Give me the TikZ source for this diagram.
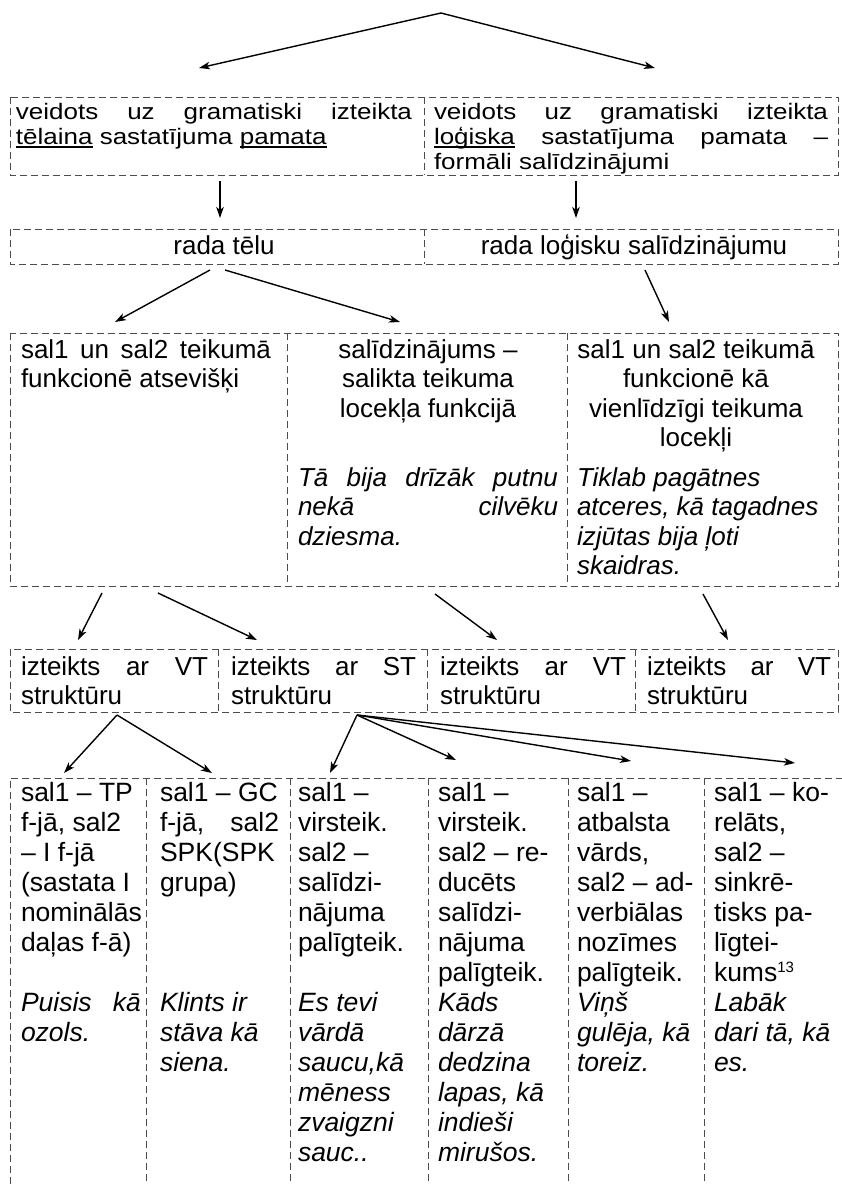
\documentclass[tikz,border=0pt]{standalone}
\usepackage{fontspec}
\setmainfont{Liberation Sans}
\newfontfamily\upw[FakeStretch=1.16]{Liberation Sans}
\usetikzlibrary{arrows.meta}
\newcommand\tp{\rule{0pt}{30pt}}
\newcommand\jl[2]{\makebox[#1][s]{#2}}
\newsavebox\ulbox
\newcommand\myul[1]{\sbox\ulbox{#1}\rlap{\rule[-3.5pt]{\wd\ulbox}{1.5pt}}\usebox\ulbox}
\newcommand\bl{\mbox{}}
\newcommand\fupA{\upw\fontsize{22.4}{25}\selectfont}
\newcommand\fupB{\fontsize{26}{29.5}\selectfont}
\newcommand\flow{\fontsize{26.5}{30}\selectfont}
\newcommand\smsup[1]{\raisebox{9pt}{\fontsize{15}{15}\selectfont #1}}
\tikzset{
  bord/.style={draw=black!70, line width=0.9pt, dash pattern=on 7pt off 4pt},
  con/.style={draw=black, line width=1.4pt, -{Stealth[length=11pt,width=7.5pt,inset=3pt]}},
  tu1/.style={inner sep=0pt, outer sep=0pt, anchor=north west, align=left, font={\fupA}},
  tu/.style={inner sep=0pt, outer sep=0pt, anchor=north west, align=left, font={\fupB}},
  tuc/.style={tu, anchor=north, align=center},
  tl/.style={inner sep=0pt, outer sep=0pt, anchor=north west, align=left, font={\flow}},
}
\begin{document}
\setlength{\lineskiplimit}{-60pt}%
\begin{tikzpicture}[x=1pt,y=-1pt]
\useasboundingbox (0,0) rectangle (842,1184);

% ---------- borders ----------
\draw[bord] (10,97) rectangle (838,175);
\draw[bord] (424,97) -- (424,175);
\draw[bord] (10,229) rectangle (838,264);
\draw[bord] (424,229) -- (424,264);
\draw[bord] (10,333) rectangle (838,586);
\draw[bord] (287,333) -- (287,586);
\draw[bord] (567,333) -- (567,586);
\draw[bord] (10,649) rectangle (838,712);
\draw[bord] (218,649) -- (218,712);
\draw[bord] (427,649) -- (427,712);
\draw[bord] (635,649) -- (635,712);
\draw[bord] (10,1184) -- (10,778) -- (842,778);
\foreach \xx in {146,290,428,568,704} \draw[bord] (\xx,778) -- (\xx,1184);

% ---------- row 1 ----------
\node[tu1] (r1l) at (16,89) {\tp\jl{396pt}{veidots uz gramatiski izteikta}\\\myul{tēlaina} sastatījuma \myul{pamata}};
\node[tu1] (r1r) at (434,89) {\tp\jl{394pt}{veidots uz gramatiski izteikta}\\\jl{394pt}{\myul{loģiska} sastatījuma pamata –}\\formāli salīdzinājumi};

% ---------- row 2 ----------
\node[tuc] (r2l) at (224,224) {\tp rada tēlu};
\node[tuc] (r2r) at (634,224) {\tp rada loģisku salīdzinājumu};

% ---------- row 3 ----------
\node[tu] (r3a) at (21,328) {\tp\jl{250pt}{sal1 un sal2 teikumā}\\funkcionē atsevišķi};
\node[tuc] (r3b) at (428,328) {\tp salīdzinājums –\\salikta teikuma\\locekļa funkcijā};
\node[tu] (r3bx) at (298,456) {\tp\itshape\jl{260pt}{Tā bija drīzāk putnu}\\\itshape\jl{260pt}{nekā cilvēku}\\\itshape dziesma.};
\node[tuc] (r3c) at (696,328) {\tp sal1 un sal2 teikumā\\funkcionē kā\\vienlīdzīgi teikuma\\locekļi};
\node[tu] (r3cx) at (577,456) {\tp\itshape Tiklab pagātnes\\\itshape atceres, kā tagadnes\\\itshape izjūtas bija ļoti\\\itshape skaidras.};

% ---------- row 4 ----------
\node[tu] (r4a) at (21,645) {\tp\jl{187pt}{izteikts ar VT}\\struktūru};
\node[tu] (r4b) at (231,645) {\tp\jl{185pt}{izteikts ar ST}\\struktūru};
\node[tu] (r4c) at (440,645) {\tp\jl{186pt}{izteikts ar VT}\\struktūru};
\node[tu] (r4d) at (647,645) {\tp\jl{184pt}{izteikts ar VT}\\struktūru};

% ---------- row 5 ----------
\node[tl] (r5a) at (21,771) {\tp sal1 – TP\\f-jā, sal2\\– I f-jā\\(sastata I\\nominālās\\daļas f-ā)\\\bl\\\itshape\jl{120pt}{Puisis kā}\\\itshape ozols.};
\node[tl] (r5b) at (160,771) {\tp sal1 – GC\\\jl{119pt}{f-jā, sal2}\\SPK(SPK\\grupa)\\\bl\\\bl\\\bl\\\itshape Klints ir\\\itshape stāva kā\\\itshape siena.};
\node[tl] (r5c) at (298,771) {\tp sal1 –\\virsteik.\\sal2 –\\salīdzi-\\nājuma\\palīgteik.\\\bl\\\itshape Es tevi\\\itshape vārdā\\\itshape saucu,kā\\\itshape mēness\\\itshape zvaigzni\\\itshape sauc..};
\node[tl] (r5d) at (438,771) {\tp sal1 –\\virsteik.\\sal2 – re-\\ducēts\\salīdzi-\\nājuma\\palīgteik.\\\itshape Kāds\\\itshape dārzā\\\itshape dedzina\\\itshape lapas, kā\\\itshape indieši\\\itshape mirušos.};
\node[tl] (r5e) at (577,771) {\tp sal1 –\\atbalsta\\vārds,\\sal2 – ad-\\verbiālas\\nozīmes\\palīgteik.\\\itshape Viņš\\\itshape gulēja, kā\\\itshape toreiz.};
\node[tl] (r5f) at (714,771) {\tp sal1 – ko-\\relāts,\\sal2 –\\sinkrē-\\tisks pa-\\līgtei-\\kums\smsup{13}\\\itshape Labāk\\\itshape dari tā, kā\\\itshape es.};

% ---------- connector end points ----------
\coordinate (apex) at (441,13);
\coordinate (h1l) at (199,68);
\coordinate (h1r) at (655,68);
\coordinate (d1s) at (220,181);
\coordinate (d1e) at (220,218);
\coordinate (d2s) at (576,181);
\coordinate (d2e) at (576,218);
\coordinate (s2a) at (210,270);
\coordinate (s2b) at (225,270);
\coordinate (s2c) at (645,270);
\coordinate (h2a) at (115,322);
\coordinate (h2b) at (400,322);
\coordinate (h2c) at (669,322);
\coordinate (s3a) at (102,593);
\coordinate (s3b) at (158,593);
\coordinate (s3c) at (435,594);
\coordinate (s3d) at (703,594);
\coordinate (h3a) at (78,640);
\coordinate (h3b) at (257,640);
\coordinate (h3c) at (497,640);
\coordinate (h3d) at (728,640);
\coordinate (s4a) at (117,715);
\coordinate (s4b) at (357,715);
\coordinate (h4a) at (64,773);
\coordinate (h4b) at (212,773);
\coordinate (h4c) at (330,773);
\coordinate (h4d) at (456,760);
\coordinate (h4e) at (631,761);
\coordinate (h4f) at (795,763);

% ---------- connectors ----------
\draw[con] (apex) -- (h1l);
\draw[con] (apex) -- (h1r);
\draw[con] (d1s) -- (d1e);
\draw[con] (d2s) -- (d2e);
\draw[con] (s2a) -- (h2a);
\draw[con] (s2b) -- (h2b);
\draw[con] (s2c) -- (h2c);
\draw[con] (s3a) -- (h3a);
\draw[con] (s3b) -- (h3b);
\draw[con] (s3c) -- (h3c);
\draw[con] (s3d) -- (h3d);
\draw[con] (s4a) -- (h4a);
\draw[con] (s4a) -- (h4b);
\draw[con] (s4b) -- (h4c);
\draw[con] (s4b) -- (h4d);
\draw[con] (s4b) -- (h4e);
\draw[con] (s4b) -- (h4f);
\end{tikzpicture}
\end{document}
